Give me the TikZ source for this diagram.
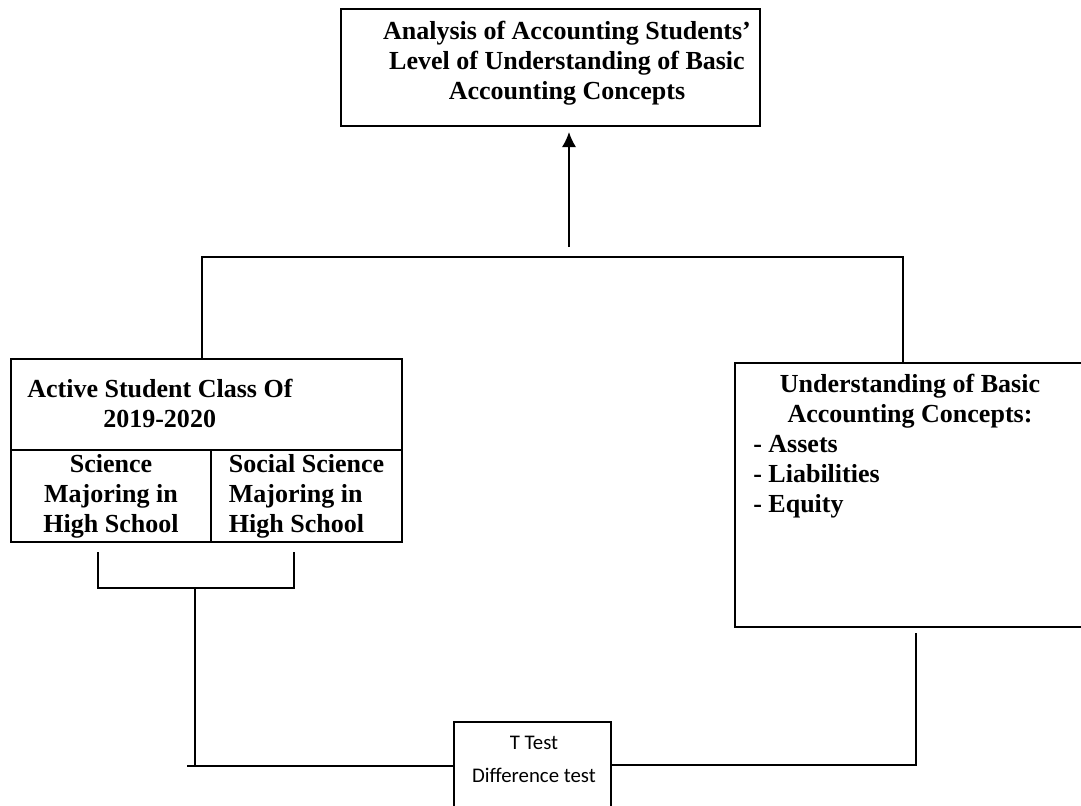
\documentclass[tikz,border=0pt]{standalone}
\usepackage{fontspec}
\setmainfont{Liberation Serif}
\newfontfamily\calfont{Carlito}
\usepackage{tikz}
\usetikzlibrary{arrows.meta,positioning,calc}

\begin{document}
\begin{tikzpicture}[x=0.025cm, y=-0.025cm,
        box/.style={draw, line width=1.2pt, inner sep=0pt, outer sep=0pt},
        txt/.style={font=\fontsize{18.5}{21.3}\selectfont\bfseries, inner sep=0pt},
        link/.style={line width=1.2pt}
    ]
        \useasboundingbox (0,0) rectangle (1081,805);

        % top box
        \node[box, minimum width=10.475cm, minimum height=2.925cm] (ana) at (550.5,67.5) {};
        \node[txt, align=center] (anatxt) at (567,63) {Analysis of Accounting Students'\\Level of Understanding of Basic\\Accounting Concepts};

        % left group
        \node[box, minimum width=9.775cm, minimum height=2.275cm] (cls) at (206.5,404.5) {};
        \node[txt, align=left, anchor=west] (clstxt) at (27,403) {Active Student Class Of\\\hspace*{1.9cm}2019-2020};
        \node[box, txt, align=center, minimum width=5cm, minimum height=2.3cm, below right=0pt and 0pt of cls.south west] (sci) {Science\\Majoring in\\High School};
        \node[box, txt, align=left, minimum width=4.775cm, minimum height=2.3cm, right=0pt of sci] (soc) {Social Science\\Majoring in\\High School};

        % right box
        \node[box, minimum width=9cm, minimum height=6.6cm] (und) at (915,495) {};
        \node[txt, align=center] (undhd) at (910,401.5) {Understanding of Basic\\Accounting Concepts:};
        \node[txt, align=left, anchor=west] (undlst) at (753,477) {- Assets\\- Liabilities\\- Equity};

        % t test
        \node[box, minimum width=3.925cm, minimum height=2.7cm] (ttest) at (532.5,776) {};
        \node[inner sep=0pt, align=center, font=\calfont\fontsize{14.8}{23.4}\selectfont] (ttxt) at (534,759) {T Test\\Difference test};

        % junctions
        \coordinate (arw) at (569,247);
        \coordinate (jl) at (202,257);
        \coordinate (jr) at (903,257);
        \coordinate (bl) at (98,588);
        \coordinate (br) at (294,588);
        \coordinate (bm) at (195,588);
        \coordinate (bc) at (195,766);
        \coordinate (rc) at (916,765);

        \draw[link, -{Latex[length=0.38cm, width=0.36cm]}] (arw) -- ($(arw |- ana.south)+(0,6)$);
        \draw[link] (jl |- cls.north) -- (jl) -- (jr) -- (jr |- und.north);
        \draw[link] ($(bl |- sci.south)+(0,10)$) -- (bl) -- (br) -- ($(br |- soc.south)+(0,10)$);
        \draw[link] (bm) -- (bc);
        \draw[link] ($(bc)+(-8,0)$) -- (bc -| ttest.west);
        \draw[link] ($(rc |- und.south)+(0,6)$) -- (rc) -- (rc -| ttest.east);
    \end{tikzpicture}
\end{document}
